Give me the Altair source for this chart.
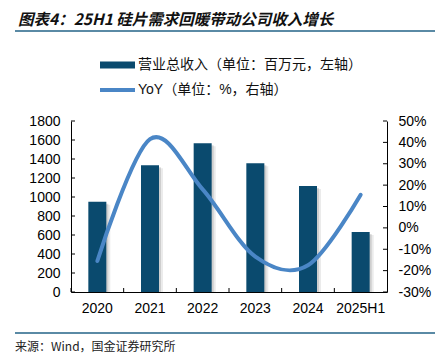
import altair as alt
import pandas as pd

years = ["2020", "2021", "2022", "2023", "2024", "2025H1"]
revenue = [950, 1335, 1565, 1355, 1115, 632]
yoy = [-15.5, 41.5, 18, -13.5, -17.5, 15.5]
left_ticks = [0, 200, 400, 600, 800, 1000, 1200, 1400, 1600, 1800]
right_ticks = [-30, -20, -10, 0, 10, 20, 30, 40, 50]

title_text = "图表4：25H1 硅片需求回暖带动公司收入增长"
legend_bar = "营业总收入（单位：百万元，左轴）"
legend_line = "YoY（单位：%，右轴）"
source_text = "来源：Wind，国金证券研究所"

BAR = "#0A4A6E"
LINE = "#4A86C6"
RULE = "#5A8AA5"
FONT = "Liberation Sans, Noto Sans CJK SC, sans-serif"
W, H = 316, 171

df = pd.DataFrame({"year": years, "revenue": revenue, "yoy": yoy})
lt = pd.DataFrame({"t": left_ticks})
rt = pd.DataFrame({"p": right_ticks})
one = pd.DataFrame({"a": [0]})

x_axis = alt.Axis(title=None, labelAngle=0, labelFont=FONT, labelFontSize=14,
                  labelColor="#000", labelPadding=9, ticks=False,
                  domainColor="#000", domainWidth=1)
xenc = alt.X("year:N", sort=years,
             scale=alt.Scale(paddingInner=0, paddingOuter=0), axis=x_axis)

yl_scale = alt.Scale(domain=[0, 1800], nice=False, zero=True)
yl_axis = alt.Axis(title=None, orient="left", values=left_ticks, ticks=False,
                   format="d", labelPadding=11, labelFont=FONT, labelFontSize=14,
                   labelColor="#000", grid=False, domainColor="#000")
yr_scale = alt.Scale(domain=[-30, 50], nice=False, zero=False)
yr_axis = alt.Axis(title=None, orient="right", values=right_ticks, ticks=False,
                   labelPadding=11, labelFont=FONT, labelFontSize=14,
                   labelColor="#000", grid=False, domainColor="#000",
                   labelExpr="datum.value + '%'")

shadow1 = alt.Chart(df).mark_bar(size=18, color="#777", opacity=0.25,
                                 xOffset=2, yOffset=2, clip=True).encode(
    x=xenc, y=alt.Y("revenue:Q", scale=yl_scale, axis=yl_axis))
shadow2 = alt.Chart(df).mark_bar(size=18, color="#777", opacity=0.15,
                                 xOffset=4, yOffset=3, clip=True).encode(
    x=xenc, y=alt.Y("revenue:Q", scale=yl_scale, axis=yl_axis))
bars = alt.Chart(df).mark_bar(size=18, color=BAR).encode(
    x=xenc, y=alt.Y("revenue:Q", scale=yl_scale, axis=yl_axis))
lticks = alt.Chart(lt).mark_rule(color="#000").encode(
    y=alt.Y("t:Q", scale=yl_scale, axis=yl_axis),
    x=alt.value(0), x2=alt.value(4))
xticks = alt.Chart(df).mark_rule(color="#000").encode(
    x=alt.X("year:N", sort=years, bandPosition=0,
            scale=alt.Scale(paddingInner=0, paddingOuter=0), axis=x_axis),
    y=alt.value(H), y2=alt.value(H - 4))
left = alt.layer(shadow2, shadow1, bars, lticks, xticks)

line = alt.Chart(df).mark_line(interpolate="cardinal", color=LINE,
                               strokeWidth=4, strokeCap="round").encode(
    x=xenc, y=alt.Y("yoy:Q", scale=yr_scale, axis=yr_axis))
rticks = alt.Chart(rt).mark_rule(color="#000").encode(
    y=alt.Y("p:Q", scale=yr_scale, axis=yr_axis),
    x=alt.value(W), x2=alt.value(W - 4))
right = alt.layer(line, rticks)

title = alt.Chart(one).mark_text(
    text=title_text, align="left", baseline="middle", font="Noto Sans CJK SC",
    fontSize=15.5, fontWeight="bold", fontStyle="italic", color="#111").encode(
    x=alt.value(-53), y=alt.value(-101.5))
top_rule = alt.Chart(one).mark_rule(color=RULE, strokeWidth=2).encode(
    x=alt.value(-56), x2=alt.value(369), y=alt.value(-90))
leg1 = alt.Chart(one).mark_rule(color=BAR, strokeWidth=7).encode(
    x=alt.value(29), x2=alt.value(64), y=alt.value(-56))
leg1t = alt.Chart(one).mark_text(
    text=legend_bar, align="left", baseline="middle", font=FONT,
    fontSize=14, color="#111").encode(x=alt.value(67), y=alt.value(-56))
leg2 = alt.Chart(one).mark_rule(color=LINE, strokeWidth=4).encode(
    x=alt.value(29), x2=alt.value(64), y=alt.value(-31))
leg2t = alt.Chart(one).mark_text(
    text=legend_line, align="left", baseline="middle", font=FONT,
    fontSize=14, color="#111").encode(x=alt.value(67), y=alt.value(-31))
bot_rule = alt.Chart(one).mark_rule(color=RULE, strokeWidth=2).encode(
    x=alt.value(-56), x2=alt.value(369), y=alt.value(212))
source = alt.Chart(one).mark_text(
    text=source_text, align="left", baseline="middle", font="Noto Sans CJK SC",
    fontSize=12, color="#222").encode(x=alt.value(-56), y=alt.value(226))

chart = alt.layer(left, right, title, top_rule, leg1, leg1t, leg2, leg2t,
                  bot_rule, source).resolve_scale(y="independent").properties(
    width=W, height=H,
    autosize=alt.AutoSizeParams(type="none"),
    padding={"left": 63, "top": 113, "right": 48, "bottom": 61},
).configure_view(stroke=None)

chart.save("out.html", embed_options={"renderer": "svg", "actions": False})
